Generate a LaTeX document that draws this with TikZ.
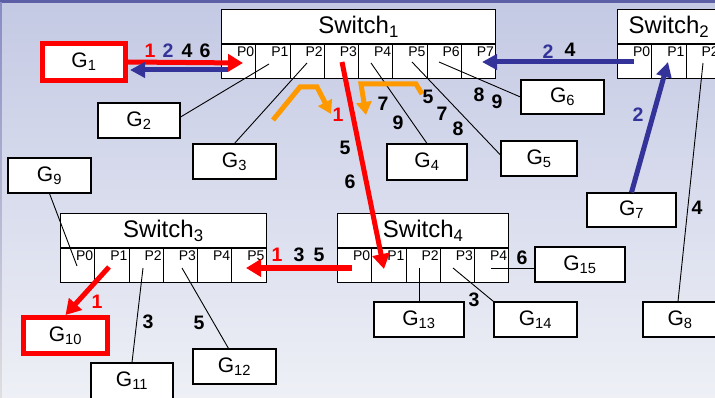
\documentclass[tikz,border=0pt]{standalone}
\usepackage{fontspec}
\setmainfont{Liberation Sans}
\usetikzlibrary{arrows.meta,calc}
\definecolor{navyA}{RGB}{51,51,153}
\definecolor{orangeA}{RGB}{255,153,0}
\definecolor{bgtop}{RGB}{196,201,228}
\definecolor{bgbot}{RGB}{238,240,246}
\definecolor{rimA}{RGB}{92,95,165}
\definecolor{rimB}{RGB}{135,139,196}
\newcommand{\mkswitch}[5]{%
  \node[hdr, minimum width={(#4+1)*34.25pt}, anchor=north west] (#1) at (#2,#3) {Switch\textsubscript{#5}};
  \foreach \i in {0,...,#4}{%
    \node[portcell, anchor=north west] (#1p\i) at ([xshift=\i*34.25pt]#1.south west) {};
    \node[plab, anchor=north east] (#1l\i) at (#1p\i.north east) {P\i};
  }%
}
\begin{document}
\begin{tikzpicture}[x=1pt,y=-1pt,
  gbox/.style={draw, fill=white, line width=1.1pt, inner sep=0pt, font=\fontsize{21}{21}\selectfont},
  redbox/.style={draw=red, fill=white, line width=5pt, inner sep=0pt, font=\fontsize{21}{21}\selectfont},
  hdr/.style={draw, fill=white, line width=1.2pt, minimum height=34pt, inner sep=0pt, font=\fontsize{24}{24}\selectfont},
  portcell/.style={draw, fill=white, line width=1.2pt, minimum width=34.25pt, minimum height=34pt, inner sep=0pt},
  plab/.style={inner sep=2pt, font=\fontsize{14}{14}\selectfont},
  num/.style={inner sep=0pt, font=\fontsize{19.5}{19.5}\selectfont\bfseries},
  thinline/.style={draw, line width=0.9pt},
  redarr/.style={draw=red, line width=5pt, -{Triangle[length=15pt,width=17pt]}},
  bluearr/.style={draw=navyA, line width=5pt, -{Triangle[length=15pt,width=15pt]}},
  orarr/.style={draw=orangeA, line width=5pt, line join=miter, -{Triangle[length=13pt,width=15pt]}}
]
\useasboundingbox (0,0) rectangle (715,398);
\clip (0,0) rectangle (715,398);
\shade[top color=bgtop, bottom color=bgbot] (0,0) rectangle (715,398);
\fill[rimA] (0,0) rectangle (715,2.7);
\shade[top color=rimB, bottom color=gray!25] (0,2.7) rectangle (1.8,398);

% switches
\mkswitch{sa}{221}{9}{7}{1}
\mkswitch{sb}{617}{9}{2}{2}
\mkswitch{sc}{60}{213}{5}{3}
\mkswitch{sd}{337}{213}{4}{4}

% hosts
\node[redbox, minimum width=83pt, minimum height=37pt] (g1) at (84,62) {G\textsubscript{1}};
\node[gbox, minimum width=82pt, minimum height=35pt] (g2) at (139,120.5) {G\textsubscript{2}};
\node[gbox, minimum width=83pt, minimum height=35pt] (g3) at (234.5,161.5) {G\textsubscript{3}};
\node[gbox, minimum width=80pt, minimum height=36pt] (g4) at (427,162) {G\textsubscript{4}};
\node[gbox, minimum width=76pt, minimum height=35pt] (g5) at (539,158.5) {G\textsubscript{5}};
\node[gbox, minimum width=83pt, minimum height=34pt] (g6) at (562.5,97) {G\textsubscript{6}};
\node[gbox, minimum width=89pt, minimum height=34pt] (g7) at (631.5,210) {G\textsubscript{7}};
\node[gbox, minimum width=74pt, minimum height=35pt] (g8) at (680,319.5) {G\textsubscript{8}};
\node[gbox, minimum width=83pt, minimum height=35pt] (g9) at (49.5,175.5) {G\textsubscript{9}};
\node[redbox, minimum width=84pt, minimum height=36pt] (g10) at (65.5,335.5) {G\textsubscript{10}};
\node[gbox, minimum width=82pt, minimum height=36pt] (g11) at (132,381) {G\textsubscript{11}};
\node[gbox, minimum width=83pt, minimum height=35pt] (g12) at (234.5,366.5) {G\textsubscript{12}};
\node[gbox, minimum width=90pt, minimum height=35pt] (g13) at (419,319.5) {G\textsubscript{13}};
\node[gbox, minimum width=83pt, minimum height=35pt] (g14) at (535.5,319.5) {G\textsubscript{14}};
\node[gbox, minimum width=90pt, minimum height=35pt] (g15) at (580,264.5) {G\textsubscript{15}};

% port contact points
\coordinate (a1) at (269,64);
\coordinate (a2) at (307,63);
\coordinate (a3) at (342,62);
\coordinate (a4) at (371,63);
\coordinate (a5) at (412,62);
\coordinate (a6) at (439,62);
\coordinate (a0r) at (243,63);
\coordinate (a0b) at (228,70);
\coordinate (a7) at (482,62);
\coordinate (b0) at (634,62);
\coordinate (b1) at (668,62);
\coordinate (b2) at (703,63);
\coordinate (c0) at (77,266);
\coordinate (c1) at (109,267);
\coordinate (c2) at (143,268);
\coordinate (c3) at (182,268);
\coordinate (c5) at (246,268);
\coordinate (d0) at (352,268);
\coordinate (d1) at (384,269);
\coordinate (d2) at (419,268);
\coordinate (d3) at (453,268);
\coordinate (d4) at (491,268);

% thin links
\path[thinline] (a1) -- ([yshift=3.5pt]g2.east);
\path[thinline] (a2) -- (g3.north);
\path[thinline] (a4) -- (g4.north);
\path[thinline] (a5) -- ([yshift=3.5pt]g5.west);
\path[thinline] (a6) -- (g6.west);
\path[thinline] (b2) -- ([xshift=-2pt]g8.north);
\path[thinline] (g9.south) -- (c0);
\path[thinline] (c2) -- (g11.north);
\path[thinline] (c3) -- ([xshift=-6pt]g12.north);
\path[thinline] (d2) -- (g13.north);
\path[thinline] (d3) -- (g14.north west);
\path[thinline] (d4) -- ([yshift=-3.5pt]g15.west);

% orange turn arrows
\coordinate (o1) at (273,120);
\coordinate (o2) at (300,87);
\coordinate (o3) at (317,87);
\coordinate (o4) at (331,114);
\coordinate (o5) at (422,94);
\coordinate (o6) at (416,84);
\coordinate (o7) at (361,84);
\coordinate (o8) at (366,115);
\path[orarr] (o1) -- (o2) -- (o3) -- (o4);
\path[orarr] (o5) -- (o6) -- (o7) -- (o8);

% thick arrows
\path[redarr] (g1.east) -- (a0r);
\path[bluearr] (a0b) -- ([yshift=-8pt,xshift=2pt]g1.east);
\path[redarr] (a3) -- (d1);
\path[bluearr] (b0) -- (a7);
\path[bluearr] (g7.north) -- (b1);
\path[redarr] (d0) -- (c5);
\path[redarr] (c1) -- (g10.north);

% step numbers
\node[num, red] (n1) at (150,51) {1};
\node[num, navyA] (n2) at (168,51) {2};
\node[num] (n3) at (187,51) {4};
\node[num] (n4) at (205,51) {6};
\node[num, red] (n5) at (338,115) {1};
\node[num] (n6) at (345,148) {5};
\node[num] (n7) at (350,182) {6};
\node[num] (n8) at (428,97) {5};
\node[num] (n9) at (383,104) {7};
\node[num] (n10) at (398,123) {9};
\node[num] (n11) at (442,114) {7};
\node[num] (n12) at (458,129) {8};
\node[num] (n13) at (479,95) {8};
\node[num] (n14) at (497,102) {9};
\node[num, navyA] (n15) at (548,52) {2};
\node[num] (n16) at (570,50) {4};
\node[num, navyA] (n17) at (638,115) {2};
\node[num] (n18) at (697,208) {4};
\node[num, red] (n19) at (277,255) {1};
\node[num] (n20) at (299,255) {3};
\node[num] (n21) at (319,255) {5};
\node[num, red] (n22) at (97,302) {1};
\node[num] (n23) at (148,322) {3};
\node[num] (n24) at (199,323) {5};
\node[num] (n25) at (474,300) {3};
\node[num] (n26) at (522,258) {6};
\end{tikzpicture}
\end{document}
